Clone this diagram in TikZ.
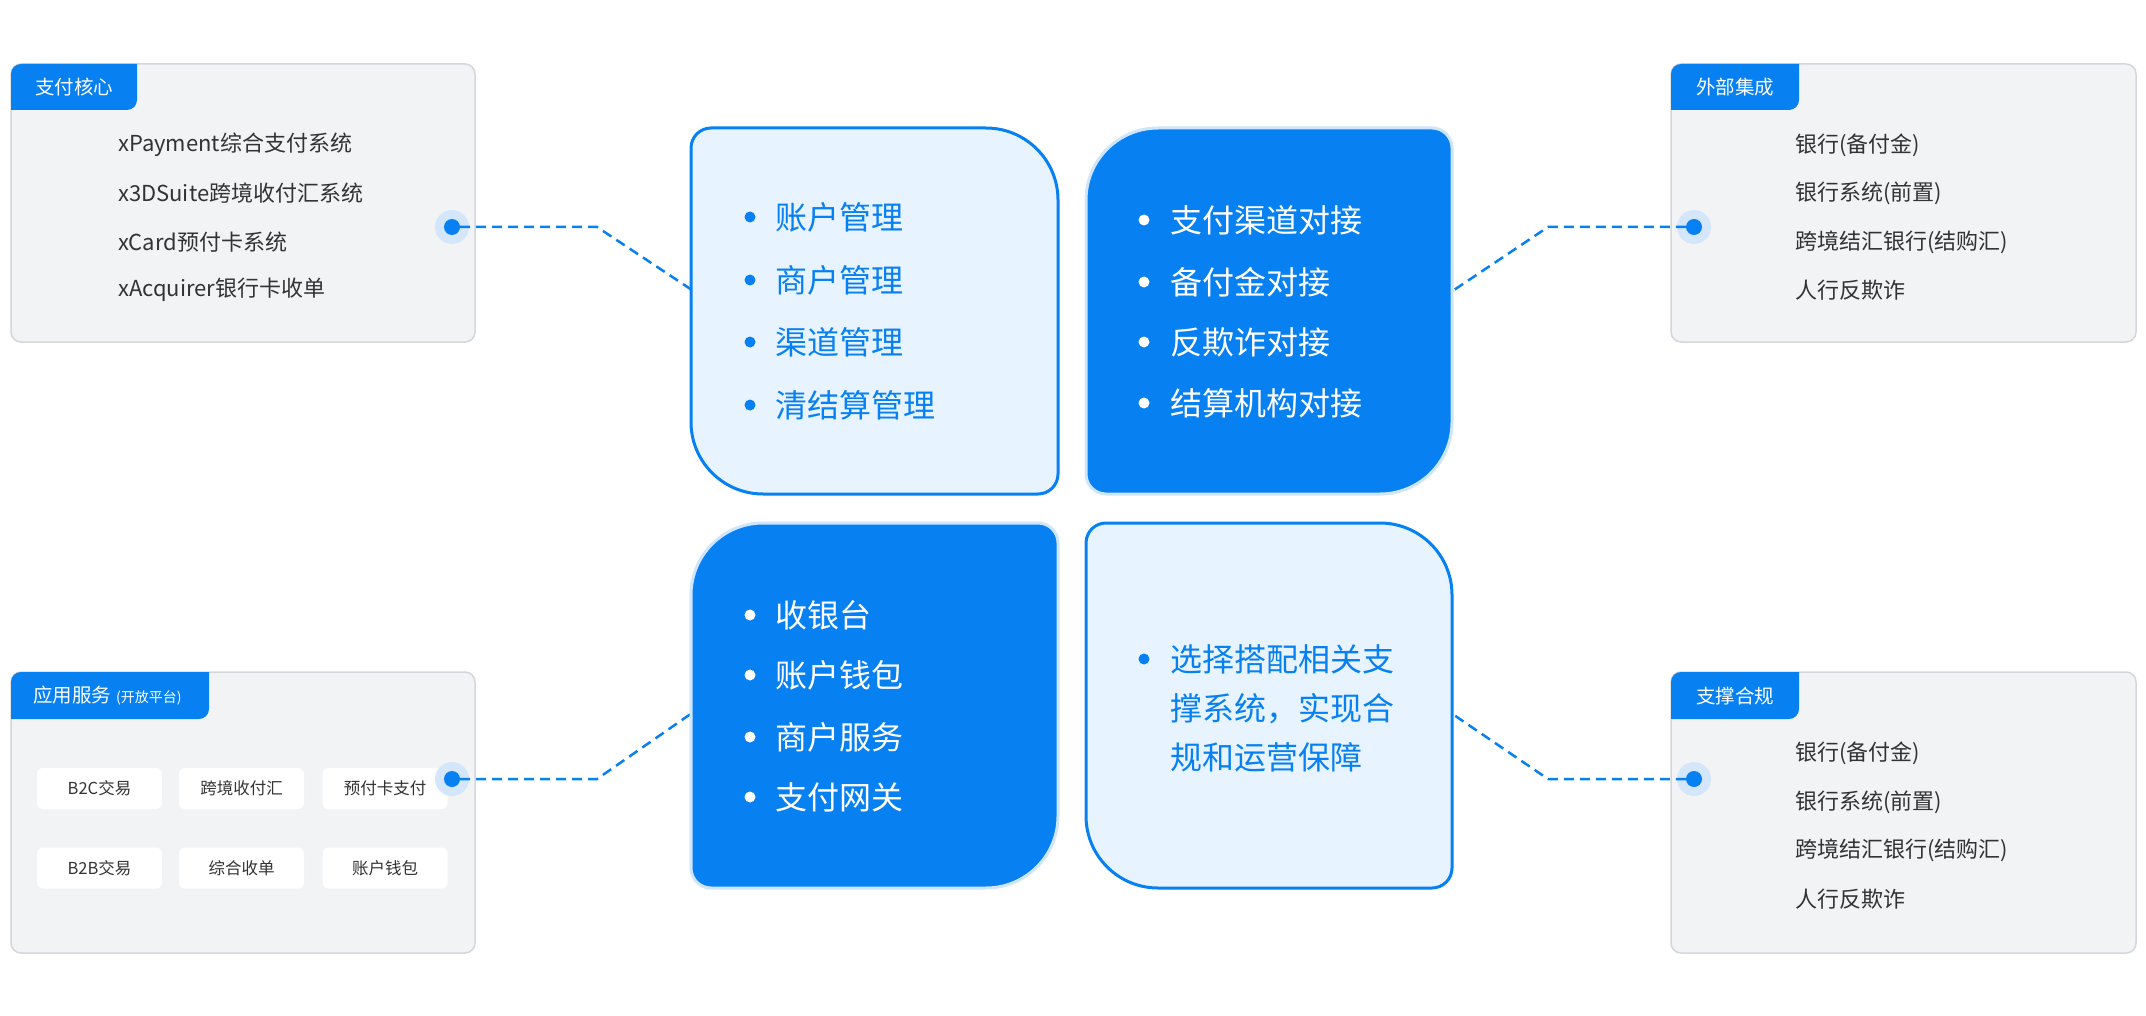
\documentclass[tikz,border=0pt]{standalone}
\usepackage{fontspec}
\newfontfamily\cjk{Noto Sans CJK SC}
\definecolor{mblue}{HTML}{0780F2}
\definecolor{lfill}{HTML}{E7F3FE}
\definecolor{dedge}{HTML}{CFE5FB}
\definecolor{pfill}{HTML}{F2F3F5}
\definecolor{pedge}{HTML}{D3D6DB}
\definecolor{ptext}{HTML}{333333}
\definecolor{halocol}{HTML}{D4E6F9}
\newcommand\qbox[9]{%
\path[#1] (#2+#6,#3) -- (#4-#7,#3) arc[start angle=270,end angle=360,radius=#7] -- (#4,#5-#8) arc[start angle=0,end angle=90,radius=#8] -- (#2+#9,#5) arc[start angle=90,end angle=180,radius=#9] -- (#2,#3+#6) arc[start angle=180,end angle=270,radius=#6] -- cycle;}
\newcommand\tabshape[4]{%
\path[fill=mblue] (#1,#2+10) arc[start angle=180,end angle=270,radius=10] -- (#3,#2) -- (#3,#4-10) arc[start angle=0,end angle=90,radius=10] -- (#1,#4) -- cycle;}
\begin{document}
\begin{tikzpicture}[x=1pt,y=-1pt,
  panel/.style={fill=pfill,draw=pedge,line width=1.5pt,rounded corners=10pt},
  lightbox/.style={fill=lfill,draw=mblue,line width=3pt},
  darkbox/.style={fill=mblue,draw=dedge,line width=3pt},
  tabtext/.style={font=\cjk\fontsize{19.5}{19.5}\selectfont,text=white,inner sep=0pt},
  item/.style={font=\cjk\fontsize{22}{22}\selectfont,text=ptext,anchor=west,inner sep=0pt},
  litem/.style={font=\cjk\fontsize{32}{32}\selectfont,text=mblue,anchor=west,inner sep=0pt},
  ditem/.style={font=\cjk\fontsize{32}{32}\selectfont,text=white,anchor=west,inner sep=0pt},
  chip/.style={fill=white,rounded corners=6pt,minimum width=125pt,minimum height=41pt,inner sep=0pt,font=\cjk\fontsize{16.5}{16.5}\selectfont,text=ptext},
  halo/.style={circle,fill=halocol,minimum size=34pt,inner sep=0pt},
  dot/.style={circle,fill=mblue,minimum size=16pt,inner sep=0pt},
  conn/.style={draw=mblue,line width=2.5pt,dash pattern=on 10pt off 6pt}]
\useasboundingbox[fill=white] (0,0) rectangle (2146,1016);

% ---------- panels ----------
\draw[panel] (11,64) rectangle (475,342);
\draw[panel] (1671,64) rectangle (2136,342);
\draw[panel] (11,672) rectangle (475,953);
\draw[panel] (1671,672) rectangle (2136,953);
\tabshape{11}{64}{137}{110}
\tabshape{1671}{64}{1799}{110}
\tabshape{11}{672}{209}{719}
\tabshape{1671}{672}{1799}{719}
\node[tabtext] (t1) at (74,87) {支付核心};
\node[tabtext] (t2) at (1735,87) {外部集成};
\node[tabtext,anchor=west] (t3) at (33,696) {应用服务\hspace{5pt}{\fontsize{14}{14}\selectfont(开放平台)}};
\node[tabtext] (t4) at (1735,696) {支撑合规};

% panel items
\node[item] (a1) at (118,145) {xPayment综合支付系统};
\node[item] (a2) at (118,193) {x3DSuite跨境收付汇系统};
\node[item] (a3) at (118,242) {xCard预付卡系统};
\node[item] (a4) at (118,290) {xAcquirer银行卡收单};

\node[item] (b1) at (1795,145) {银行(备付金)};
\node[item] (b2) at (1795,193) {银行系统(前置)};
\node[item] (b3) at (1795,242) {跨境结汇银行(结购汇)};
\node[item] (b4) at (1795,290) {人行反欺诈};

\node[item] (c1) at (1795,753) {银行(备付金)};
\node[item] (c2) at (1795,802) {银行系统(前置)};
\node[item] (c3) at (1795,850) {跨境结汇银行(结购汇)};
\node[item] (c4) at (1795,899) {人行反欺诈};

\node[chip] (k1) at (99.5,788.5) {B2C交易};
\node[chip] (k2) at (241.5,788.5) {跨境收付汇};
\node[chip] (k3) at (385,788.5) {预付卡支付};
\node[chip] (k4) at (99.5,868) {B2B交易};
\node[chip] (k5) at (241.5,868) {综合收单};
\node[chip] (k6) at (385,868) {账户钱包};

% ---------- connectors ----------
\node[halo] (h1) at (452,227) {};
\node[halo] (h2) at (1694,227) {};
\node[halo] (h3) at (452,779) {};
\node[halo] (h4) at (1694,779) {};
\node[dot] (d1) at (452,227) {};
\node[dot] (d2) at (1694,227) {};
\node[dot] (d3) at (452,779) {};
\node[dot] (d4) at (1694,779) {};
\coordinate (e1) at (692,290);
\coordinate (e2) at (1451,292);
\coordinate (e3) at (692,713);
\coordinate (e4) at (1451,713);
\draw[conn] (d1) -- (597,227) -- (e1);
\draw[conn] (d2) -- (1548,227) -- (e2);
\draw[conn] (d3) -- (597,779) -- (e3);
\draw[conn] (d4) -- (1548,779) -- (e4);

% ---------- central boxes ----------
\qbox{lightbox}{691}{128}{1058}{494}{20}{72}{20}{72}
\qbox{darkbox}{1086}{128}{1452}{494}{72}{20}{72}{20}
\qbox{darkbox}{691}{523}{1058}{888}{72}{20}{72}{20}
\qbox{lightbox}{1086}{523}{1452}{888}{20}{72}{20}{72}

\foreach \y/\t [count=\i] in {217/账户管理,280/商户管理,342/渠道管理,405/清结算管理}{
  \fill[mblue] (750,\y) circle (5.5);
  \node[litem] (p\i) at (775,\y) {\t};
}
\foreach \y/\t [count=\i] in {220/支付渠道对接,282/备付金对接,342/反欺诈对接,403/结算机构对接}{
  \fill[white] (1144,\y) circle (5.5);
  \node[ditem] (q\i) at (1170,\y) {\t};
}
\foreach \y/\t [count=\i] in {615/收银台,675/账户钱包,737/商户服务,797/支付网关}{
  \fill[white] (750,\y) circle (5.5);
  \node[ditem] (r\i) at (775,\y) {\t};
}
\fill[mblue] (1144,659) circle (5.5);
\node[litem,align=left,font=\cjk\fontsize{32}{49}\selectfont] (s1) at (1170,708) {选择搭配相关支\\撑系统，实现合\\规和运营保障};
\end{tikzpicture}
\end{document}
